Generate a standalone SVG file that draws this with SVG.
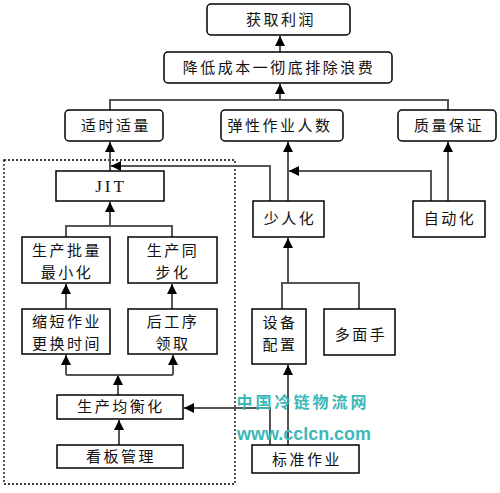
<svg xmlns="http://www.w3.org/2000/svg" width="500" height="493" viewBox="0 0 500 493">
<defs>
<marker id="ah" viewBox="0 0 10 10" refX="10" refY="5" markerWidth="10" markerHeight="10" markerUnits="userSpaceOnUse" orient="auto">
<path d="M0,0 L10,5 L0,10 Z" fill="#000"/>
</marker>
<style>
.box{fill:#fff;stroke:#000;stroke-width:1.5}
.t{font-family:"Noto Sans CJK SC","Liberation Sans",sans-serif;font-size:15px;fill:#111;text-anchor:middle;letter-spacing:2.5px}
.c{fill:none;stroke:#555;stroke-width:2}
.a{marker-end:url(#ah)}
.wm{font-family:"Liberation Sans","Noto Sans CJK SC",sans-serif;font-weight:bold;fill:#3db8b8;text-anchor:middle}
</style>
</defs>
<rect width="500" height="493" fill="#fff"/>
<rect x="4" y="160" width="231" height="324" fill="none" stroke="#000" stroke-width="1.3" stroke-dasharray="2,2"/>
<g id="connectors">
<path class="c a" d="M280,52 V36"/>
<path class="c" d="M110,110 V100 H448 V110"/>
<path class="c a" d="M280,100 V84"/>
<path class="c a" d="M110,171 V142"/>
<path class="c a" d="M270,201 V166 H111"/>
<path class="c a" d="M288,201 V142"/>
<path class="c a" d="M431,201 V171 H289"/>
<path class="c a" d="M448,201 V142"/>
<path class="c" d="M282,309 V283 H359 V309"/>
<path class="c a" d="M288,283 V238"/>
<path class="c a" d="M288,445 V365"/>
<path class="c a" d="M270,445 V408 H184"/>
<path class="c a" d="M119,445 V420"/>
<path class="c" d="M66,375 H173"/>
<path class="c a" d="M118,395 V375"/>
<path class="c a" d="M66,375 V355"/>
<path class="c a" d="M173,375 V355"/>
<path class="c a" d="M66,309 V284"/>
<path class="c a" d="M172,309 V284"/>
<path class="c" d="M66,237 V226 H172 V237"/>
<path class="c a" d="M110,226 V202"/>
</g>
<g id="n1"><rect class="box" x="207" y="4" width="143" height="31" rx="4"/><text class="t" x="281" y="25">获取利润</text></g>
<g id="n2"><rect class="box" x="164" y="52" width="228" height="31" rx="4"/><text class="t" x="279" y="73">降低成本一彻底排除浪费</text></g>
<g id="n3"><rect class="box" x="65" y="110" width="98" height="31" rx="4"/><text class="t" x="116" y="131">适时适量</text></g>
<g id="n4"><rect class="box" x="221" y="110" width="122" height="31" rx="4"/><text class="t" x="280" y="131">弹性作业人数</text></g>
<g id="n5"><rect class="box" x="398" y="110" width="98" height="31" rx="4"/><text class="t" x="449" y="131">质量保证</text></g>
<g id="n6"><rect class="box" x="56" y="171" width="108" height="30"/><text x="111" y="192" style="font-family:'Liberation Serif',serif;font-size:17px;text-anchor:middle;letter-spacing:3px;fill:#111">JIT</text></g>
<g id="n7"><rect class="box" x="22" y="237" width="88" height="46"/><text class="t" x="67" y="256">生产批量</text><text class="t" x="67" y="278">最小化</text></g>
<g id="n8"><rect class="box" x="128" y="237" width="89" height="46"/><text class="t" x="173" y="256">生产同</text><text class="t" x="173" y="278">步化</text></g>
<g id="n9"><rect class="box" x="22" y="309" width="88" height="45"/><text class="t" x="67" y="327">缩短作业</text><text class="t" x="67" y="349">更换时间</text></g>
<g id="n10"><rect class="box" x="128" y="309" width="89" height="45"/><text class="t" x="173" y="327">后工序</text><text class="t" x="173" y="349">领取</text></g>
<g id="n11"><rect class="box" x="57" y="395" width="126" height="24"/><text class="t" x="121" y="412">生产均衡化</text></g>
<g id="n12"><rect class="box" x="57" y="445" width="126" height="23"/><text class="t" x="121" y="462">看板管理</text></g>
<g id="n13"><rect class="box" x="253" y="201" width="71" height="36"/><text class="t" x="290" y="224">少人化</text></g>
<g id="n14"><rect class="box" x="413" y="201" width="72" height="36"/><text class="t" x="450" y="224">自动化</text></g>
<g id="n15"><rect class="box" x="252" y="309" width="54" height="55"/><text class="t" x="280" y="328">设备</text><text class="t" x="280" y="350">配置</text></g>
<g id="n16"><rect class="box" x="324" y="309" width="71" height="46"/><text class="t" x="361" y="340">多面手</text></g>
<g id="n17"><rect class="box" x="252" y="445" width="107" height="28"/><text class="t" x="307" y="465">标准作业</text></g>
<g id="watermark">
<text class="wm" x="303" y="408" style="font-size:16px;letter-spacing:3px;font-family:'Noto Sans CJK SC',sans-serif">中国冷链物流网</text>
<text class="wm" x="304" y="440" style="font-size:19px" textLength="134" lengthAdjust="spacingAndGlyphs">www.cclcn.com</text>
</g>
</svg>
